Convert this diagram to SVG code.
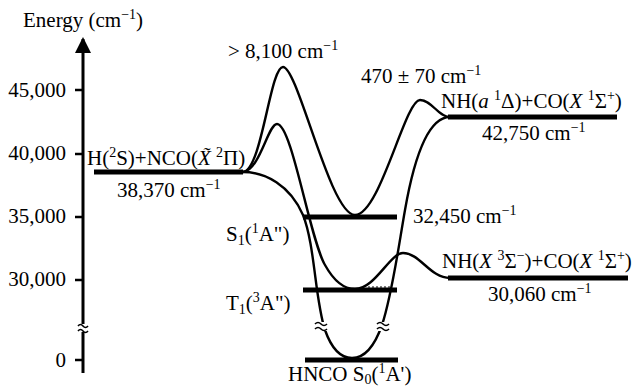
<svg xmlns="http://www.w3.org/2000/svg" width="637" height="388" viewBox="0 0 637 388">
<style>
text{font-family:'Liberation Serif','Times New Roman',serif;font-size:21px;fill:#000}
.tick{text-anchor:end}
.sup{font-size:14px}
.bar{stroke:#000;stroke-width:5;fill:none}
.curve{stroke:#000;stroke-width:2.4;fill:none}
.axis{stroke:#000;stroke-width:3;fill:none}
.brk{stroke:#000;stroke-width:1.6;fill:none}
</style>
<rect width="637" height="388" fill="#fff"/>
<g id="axis">
<line class="axis" x1="83" y1="373" x2="83" y2="39"/>
<path d="M75,53 L83,37 L91,53 Z" fill="#000"/>
<g class="axis" style="stroke-width:2.5">
<line x1="75" y1="90" x2="83" y2="90"/>
<line x1="75" y1="154" x2="83" y2="154"/>
<line x1="75" y1="217" x2="83" y2="217"/>
<line x1="75" y1="280" x2="83" y2="280"/>
<line x1="75" y1="360" x2="83" y2="360"/>
</g>
<rect x="78" y="324" width="10" height="8" fill="#fff"/>
<path class="brk" d="M78,326 q2.5,-3 5,0 t5,0 M78,331 q2.5,-3 5,0 t5,0"/>
<text x="23" y="27">Energy (cm<tspan class="sup" dy="-8">−1</tspan><tspan dy="8">)</tspan></text>
<text class="tick" x="66" y="97">45,000</text>
<text class="tick" x="66" y="160">40,000</text>
<text class="tick" x="66" y="223">35,000</text>
<text class="tick" x="66" y="286">30,000</text>
<text class="tick" x="66" y="367">0</text>
</g>
<g id="connectors">
<path class="curve" d="M243,172 C262,170 270,67 283,67 C298,67 330,215 355,215 C380,215 405,100 420,100 C432,100 438,117 450,117"/>
<path class="curve" d="M243,172 C260,170 268,124 277,124 C292,124 310,240 325,265 C335,283 345,289 355,289 C375,289 390,253 403,253 C420,253 430,278 450,278"/>
<path class="curve" d="M243,172 C265,172 290,185 303,215 C315,245 315,300 325,330 C332,350 342,358 352,358 C365,358 375,345 382,325 C392,295 398,250 405,210 C412,170 425,117 450,117"/>
<line x1="368" y1="287" x2="391" y2="287" stroke="#000" stroke-width="1" stroke-dasharray="2,2"/>
<rect x="315" y="322" width="12" height="9" fill="#fff"/>
<path class="brk" d="M315,324 q3,-3 6,0 t6,0 M315,329 q3,-3 6,0 t6,0"/>
<rect x="377" y="322" width="12" height="9" fill="#fff"/>
<path class="brk" d="M377,324 q3,-3 6,0 t6,0 M377,329 q3,-3 6,0 t6,0"/>
<text x="228" y="58">&gt; 8,100 cm<tspan class="sup" dy="-8">−1</tspan></text>
<text x="361" y="83">470 ± 70 cm<tspan class="sup" dy="-8">−1</tspan></text>
</g>
<g id="h-nco">
<line class="bar" x1="94" y1="172" x2="243" y2="172"/>
<text x="87" y="165">H(<tspan class="sup" dy="-8">2</tspan><tspan dy="8">S)+NCO(</tspan><tspan font-style="italic">X̃</tspan><tspan> </tspan><tspan class="sup" dy="-8">2</tspan><tspan dy="8">Π)</tspan></text>
<text x="117" y="197">38,370 cm<tspan class="sup" dy="-8">−1</tspan></text>
</g>
<g id="s1">
<line class="bar" x1="303" y1="217" x2="397" y2="217"/>
<text x="226" y="241">S<tspan class="sup" dy="4">1</tspan><tspan dy="-4">(</tspan><tspan class="sup" dy="-8">1</tspan><tspan dy="8">A")</tspan></text>
<text x="413" y="223">32,450 cm<tspan class="sup" dy="-8">−1</tspan></text>
</g>
<g id="t1">
<line class="bar" x1="303" y1="290" x2="397" y2="290"/>
<text x="226" y="310">T<tspan class="sup" dy="4">1</tspan><tspan dy="-4">(</tspan><tspan class="sup" dy="-8">3</tspan><tspan dy="8">A")</tspan></text>
</g>
<g id="s0">
<line class="bar" x1="305" y1="360" x2="398" y2="360"/>
<text x="288" y="381">HNCO S<tspan class="sup" dy="3">0</tspan><tspan dy="-3">(</tspan><tspan class="sup" dy="-8">1</tspan><tspan dy="8">A')</tspan></text>
</g>
<g id="nh-a">
<line class="bar" x1="448" y1="117" x2="617" y2="117"/>
<text x="441" y="108">NH(<tspan font-style="italic">a</tspan> <tspan class="sup" dy="-8">1</tspan><tspan dy="8">Δ)+CO(</tspan><tspan font-style="italic">X</tspan> <tspan class="sup" dy="-8">1</tspan><tspan dy="8">Σ</tspan><tspan class="sup" dy="-8">+</tspan><tspan dy="8">)</tspan></text>
<text x="482" y="140">42,750 cm<tspan class="sup" dy="-8">−1</tspan></text>
</g>
<g id="nh-x">
<line class="bar" x1="448" y1="278" x2="628" y2="278"/>
<text x="442" y="268">NH(<tspan font-style="italic">X</tspan> <tspan class="sup" dy="-8">3</tspan><tspan dy="8">Σ</tspan><tspan class="sup" dy="-8">−</tspan><tspan dy="8">)+CO(</tspan><tspan font-style="italic">X</tspan> <tspan class="sup" dy="-8">1</tspan><tspan dy="8">Σ</tspan><tspan class="sup" dy="-8">+</tspan><tspan dy="8">)</tspan></text>
<text x="488" y="301">30,060 cm<tspan class="sup" dy="-8">−1</tspan></text>
</g>
</svg>
